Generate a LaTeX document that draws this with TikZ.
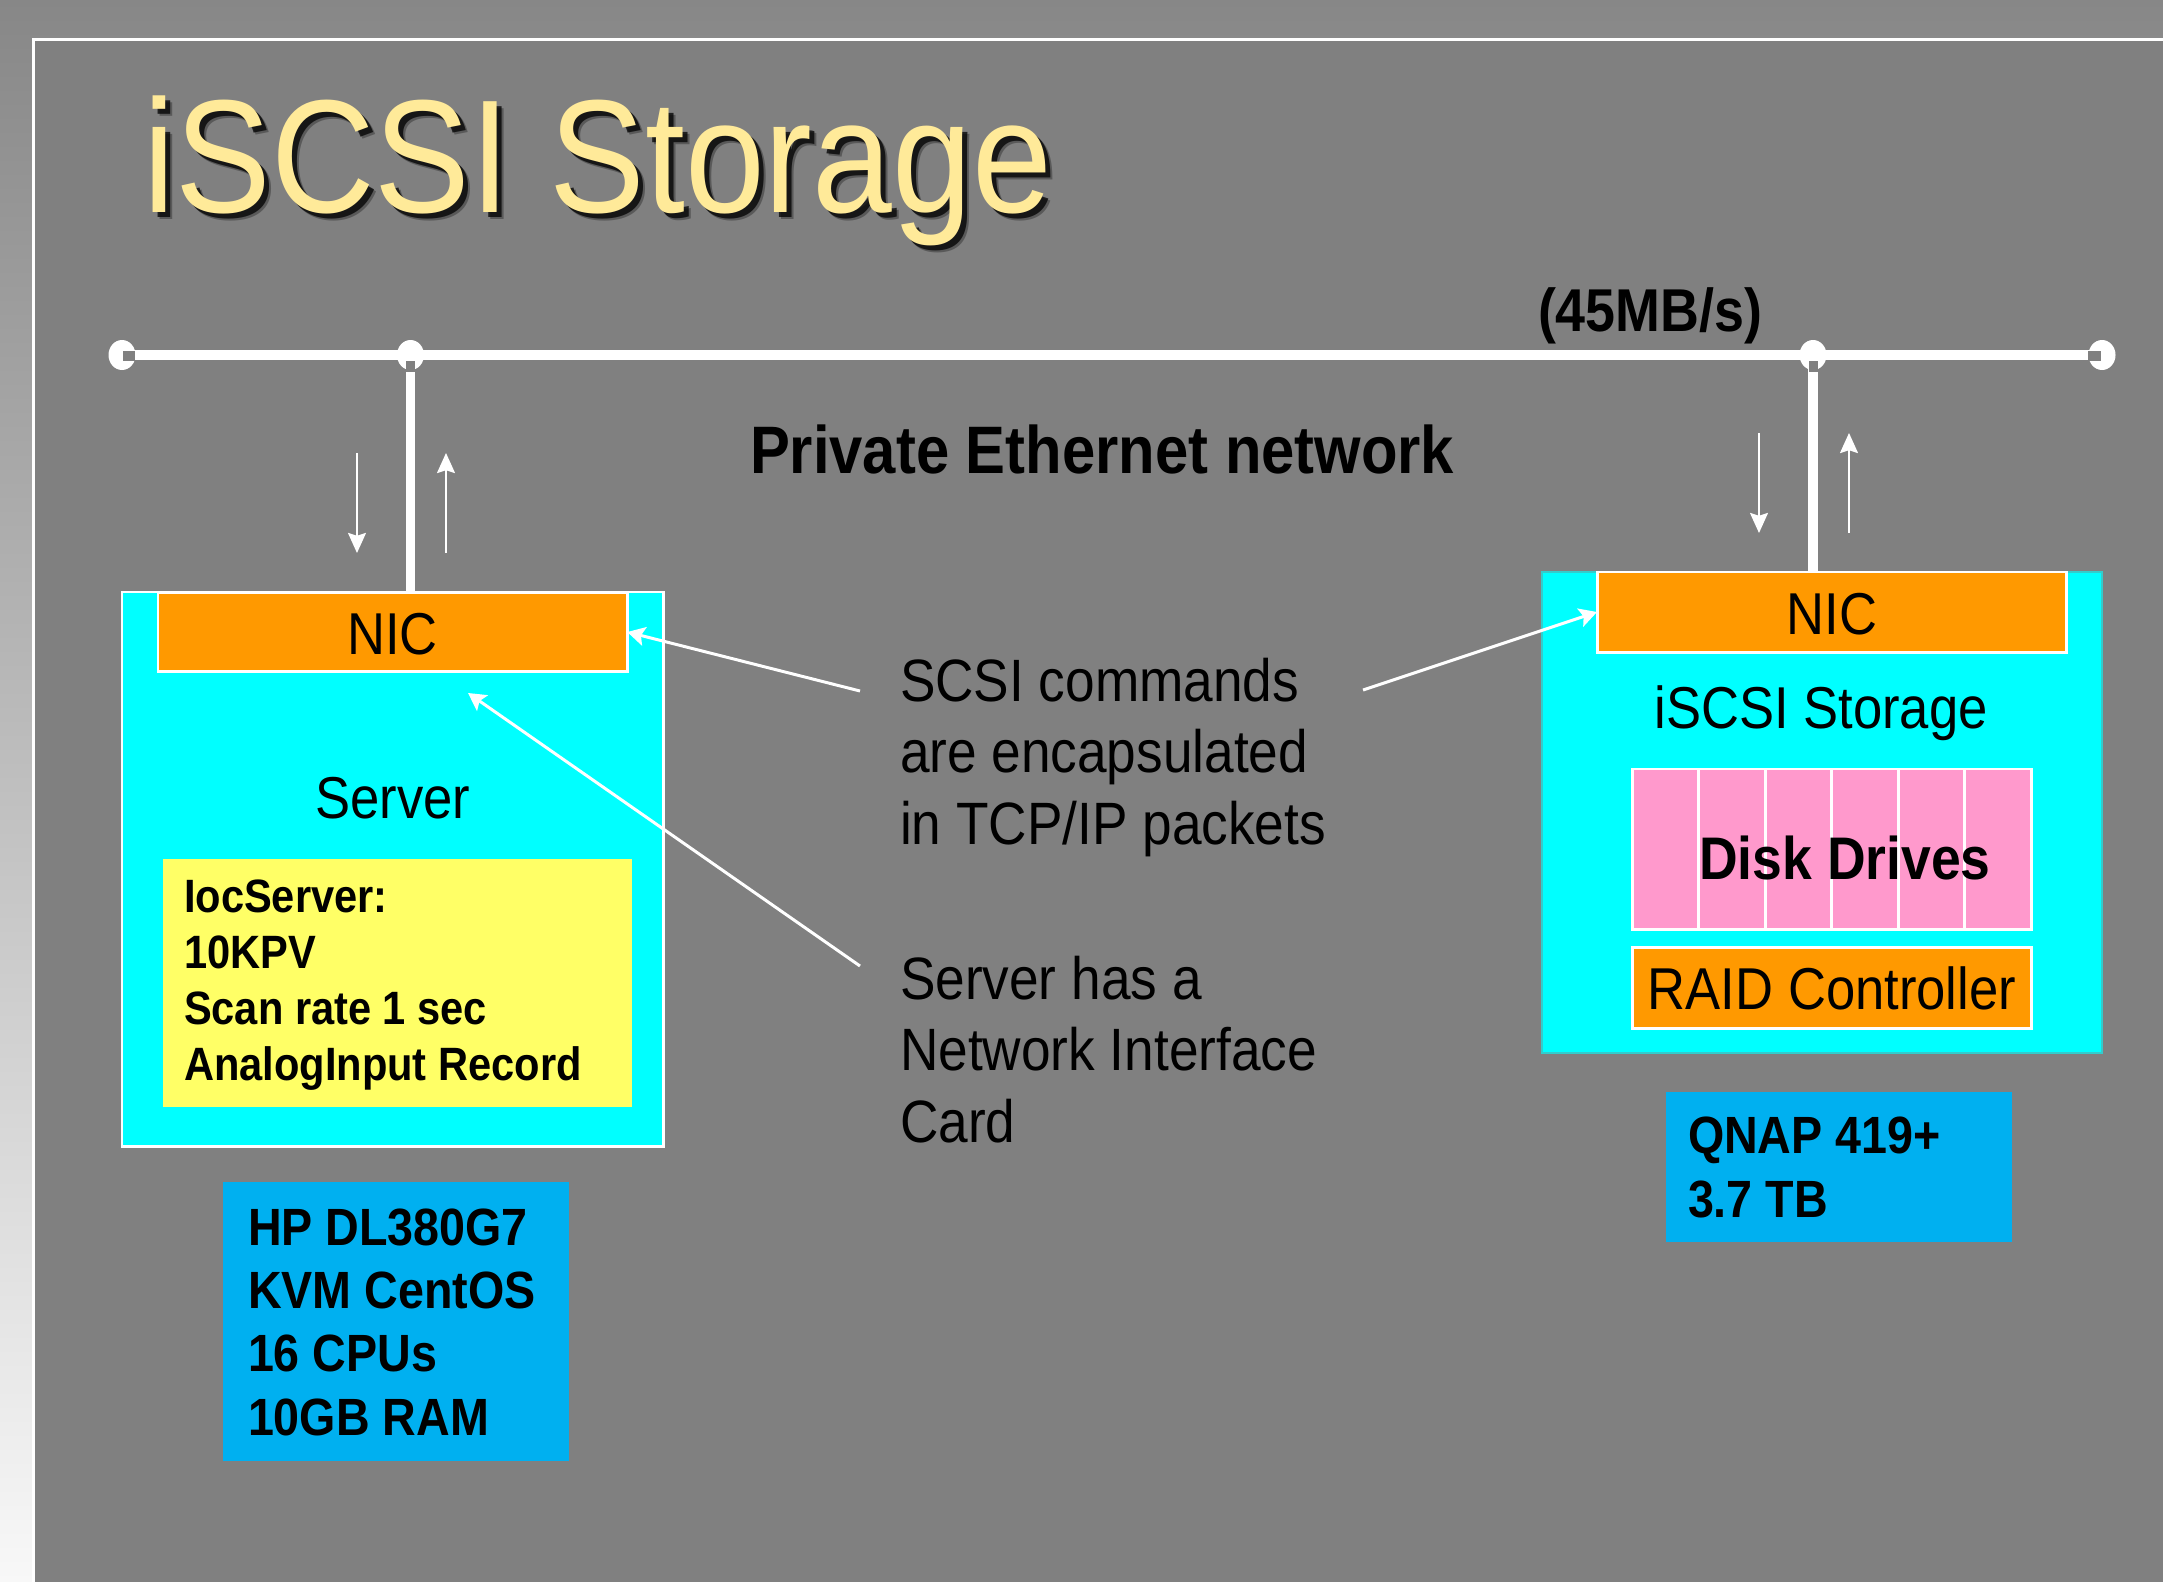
\documentclass[tikz,border=0pt]{standalone}
\usepackage{fontspec}
\setmainfont{Liberation Sans}[FakeStretch=0.89]
\usetikzlibrary{arrows.meta}

\definecolor{bgtop}{HTML}{878787}
\definecolor{bgbot}{HTML}{F8F8F8}
\definecolor{panel}{HTML}{808080}
\definecolor{titlecol}{HTML}{FFEA99}
\definecolor{boxcyan}{HTML}{00FFFF}
\definecolor{cyanedge}{HTML}{33CCCC}
\definecolor{nicorange}{HTML}{FF9900}
\definecolor{noteyellow}{HTML}{FFFF66}
\definecolor{diskpink}{HTML}{FF99CC}
\definecolor{specblue}{HTML}{00B0F0}

\newcommand\fsz[2]{\fontsize{#1}{#2}\selectfont}

\begin{document}
\begin{tikzpicture}[x=0.01cm,y=-0.01cm,
  box/.style={draw=white, line width=0.85pt, inner sep=0pt, outer sep=0pt, anchor=north west},
  plainbox/.style={inner sep=0pt, outer sep=0pt, anchor=north west},
  lbl/.style={inner sep=0pt, outer sep=0pt, text=black, font=\fsz{16.8pt}{20.2pt}},
  notelbl/.style={lbl, align=left, anchor=base west, font=\bfseries\fsz{13.3pt}{15.85pt}},
  speclbl/.style={lbl, align=left, anchor=base west, font=\bfseries\fsz{14.9pt}{18pt}},
  remark/.style={lbl, align=left, anchor=base west, font=\fsz{17pt}{20.2pt}},
  bus/.style={draw=white, line width=2.85pt},
  drop/.style={draw=white, line width=2.6pt},
  flow/.style={draw=white, line width=0.6pt, -{Stealth[length=5.7pt, width=5.1pt, inset=0.8pt]}},
  callout/.style={draw=white, line width=0.85pt, -{Stealth[length=5pt, width=5.4pt, inset=1pt]}},
  tap/.style={fill=white},
  hole/.style={fill=panel}
]
\useasboundingbox (0,0) rectangle (2163,1582);

% slide background and panel
\shade[top color=bgtop, bottom color=bgbot] (0,0) rectangle (2163,1582);
\fill[panel] (32,38) rectangle (2163,1582);
\draw[white, line width=0.85pt] (33.5,1582) |- (2163,39.5);

% title with drop shadow
\node[inner sep=0pt, anchor=base west, text=black, opacity=0.3, font=\fsz{45.8pt}{50pt}] at (150,220) {iSCSI Storage};
\node[inner sep=0pt, anchor=base west, text=black, opacity=0.75, font=\fsz{45.8pt}{50pt}] at (148,218) {iSCSI Storage};
\node[inner sep=0pt, anchor=base west, text=titlecol, font=\fsz{45.8pt}{50pt}] (title) at (143,213) {iSCSI Storage};

% Ethernet bus
\coordinate (busL) at (122,355);
\coordinate (jL) at (410.5,355);
\coordinate (jR) at (1813,355);
\coordinate (busR) at (2102,355);

% server (multi-line labels are placed by the baseline of their last line)
\node[box, fill=boxcyan, minimum width=5.41cm, minimum height=5.54cm] (server) at (122,592) {};
\node[box, fill=nicorange, minimum width=4.69cm, minimum height=0.78cm] (nicL) at (158,593) {};
\node[lbl, anchor=base] at (392.5,654) {NIC};
\node[lbl, anchor=base] at (393,818) {Server};
\node[plainbox, fill=noteyellow, minimum width=4.69cm, minimum height=2.48cm] (ioc) at (163,859) {};
\node[notelbl] at (184,1080) {IocServer:\\10KPV\\Scan rate 1 sec\\AnalogInput Record};
\node[plainbox, fill=specblue, minimum width=3.46cm, minimum height=2.79cm] (hp) at (223,1182) {};
\node[speclbl] at (248,1435) {HP DL380G7\\KVM CentOS\\16 CPUs\\10GB RAM};

% storage
\node[box, draw=cyanedge, line width=0.6pt, fill=boxcyan, minimum width=5.60cm, minimum height=4.81cm] (store) at (1542,572) {};
\node[box, fill=nicorange, minimum width=4.69cm, minimum height=0.80cm] (nicR) at (1597,572) {};
\node[lbl, anchor=base] at (1832,634) {NIC};
\node[lbl, anchor=base] at (1821,728) {iSCSI Storage};
\node[box, fill=diskpink, minimum width=3.99cm, minimum height=1.60cm] (disks) at (1632,769) {};
\foreach \x in {1698.5,1765,1831.5,1898,1964.5}
  \draw[white, line width=0.85pt] (\x,769) -- (\x,929);
\node[lbl, anchor=base, font=\bfseries\fsz{17.1pt}{20pt}] at (1845,879) {Disk Drives};
\node[box, fill=nicorange, minimum width=3.99cm, minimum height=0.81cm] (raid) at (1632,947) {};
\node[lbl, anchor=base] at (1832,1009) {RAID Controller};
\node[plainbox, fill=specblue, minimum width=3.46cm, minimum height=1.50cm] (qnap) at (1666,1092) {};
\node[speclbl] at (1688,1217) {QNAP 419+\\3.7 TB};

% network wiring
\draw[bus] (busL) -- (busR);
\draw[drop] (jL) -- (jL |- nicL.north);
\draw[drop] (jR) -- (jR |- nicR.north);
\foreach \p in {busL,jL,jR,busR}
  \fill[tap] (\p) ellipse [x radius=13.5, y radius=15];
\fill[hole] (123,351) rectangle (135,361);
\fill[hole] (2088,351) rectangle (2101,361);
\fill[hole] (406,361) rectangle (415,372);
\fill[hole] (1808.5,361) rectangle (1817.5,372);

\node[lbl, anchor=base west, font=\bfseries\fsz{17.2pt}{20pt}] (rate) at (1538,331) {(45MB/s)};
\node[lbl, anchor=base west, font=\bfseries\fsz{19.1pt}{22pt}] (net) at (750,473) {Private Ethernet network};

% traffic direction
\coordinate (aLd1) at (357,453); \coordinate (aLd2) at (357,553);
\coordinate (aLu1) at (446,553); \coordinate (aLu2) at (446,453);
\coordinate (aRd1) at (1759,433); \coordinate (aRd2) at (1759,533);
\coordinate (aRu1) at (1849,533); \coordinate (aRu2) at (1849,433);
\draw[flow] (aLd1) -- (aLd2);
\draw[flow] (aLu1) -- (aLu2);
\draw[flow] (aRd1) -- (aRd2);
\draw[flow] (aRu1) -- (aRu2);

% remarks
\node[remark] (scsi) at (900,844) {SCSI commands\\are encapsulated\\in TCP/IP packets};
\node[remark] (card) at (900,1142) {Server has a\\Network Interface\\Card};
\coordinate (c1) at (860,691);
\coordinate (c2) at (1363,690);
\coordinate (c3) at (860,966);
\coordinate (c3tip) at (468,693);
\draw[callout] (c1) -- (nicL.east);
\draw[callout] (c2) -- (nicR.west);
\draw[callout] (c3) -- (c3tip);
\end{tikzpicture}
\end{document}
